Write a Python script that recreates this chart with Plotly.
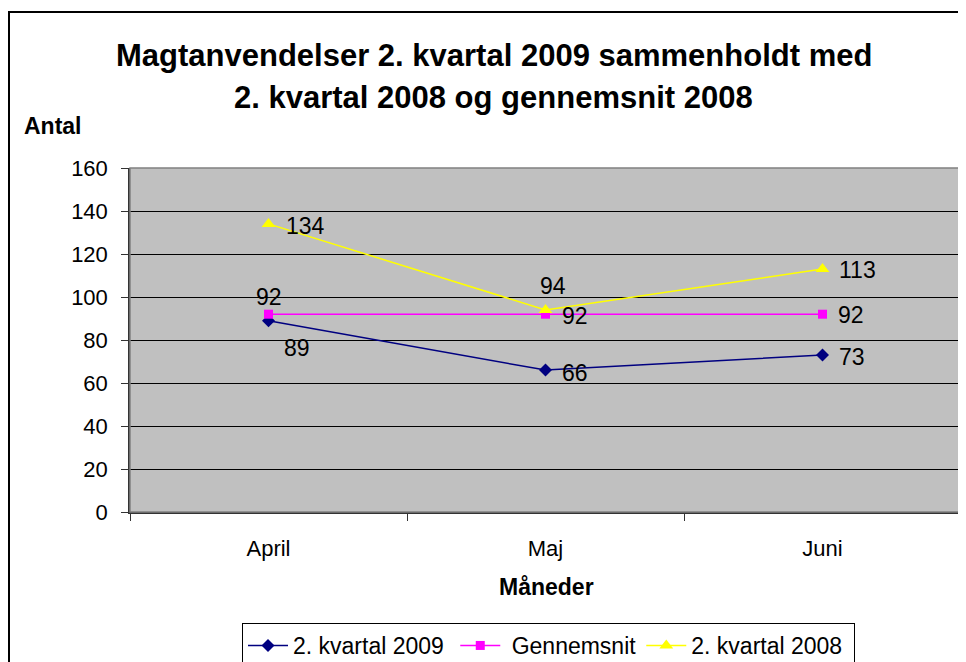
import plotly.graph_objects as go

months = ["April", "Maj", "Juni"]
kv2009 = [89, 66, 73]
gennemsnit = [92, 92, 92]
kv2008 = [134, 94, 113]
y_ticks = [0, 20, 40, 60, 80, 100, 120, 140, 160]
names = ["2. kvartal 2009\u00a0", "\u00a0Gennemsnit", "2. kvartal 2008\u00a0"]

# label placement (anchor, x offset px, y offset px) for each point
place2009 = [("left", 13, -27), ("left", 14, -3), ("left", 14, -2)]
placeGen = [("center", 0, 17), ("left", 14, -2), ("left", 13, -1)]
place2008 = [("left", 15, -2), ("center", 7, 24), ("left", 14, -1)]

FONT = "Liberation Sans, Arial, sans-serif"

# page has an 8px body margin; work in reference pixel coords and shift
OFF = 8
W, H = 966 - OFF, 662 - OFF
L, T = 130 - OFF, 168 - OFF
pw, ph = 831, 344
R = W - L - pw
B = H - T - ph


def px(x):
    return (x - OFF - L) / pw


def py(y):
    return (T + ph - (y - OFF)) / ph


fig = go.Figure()
series = [
    (names[0], kv2009, "#000080", "diamond", 10, place2009),
    (names[1], gennemsnit, "#FF00FF", "square", 9, placeGen),
    (names[2], kv2008, "#FFFF00", "triangle-up", 12, place2008),
]
annotations = []
for name, vals, col, sym, msize, place in series:
    fig.add_trace(go.Scatter(
        x=months, y=vals, name=name, mode="lines+markers",
        line=dict(color=col, width=1.5),
        marker=dict(symbol=sym, size=msize, color=col)))
    for m, v, (anc, dx, dy) in zip(months, vals, place):
        annotations.append(dict(
            x=m, y=v, xref="x", yref="y", text=str(v), showarrow=False,
            xanchor=anc, yanchor="middle", xshift=dx, yshift=dy,
            font=dict(family=FONT, size=23, color="black")))

annotations += [
    dict(text="<b>Magtanvendelser 2. kvartal 2009 sammenholdt med</b>",
         xref="paper", yref="paper", x=px(494), y=py(55), xanchor="center",
         yanchor="middle", showarrow=False, font=dict(family=FONT, size=31)),
    dict(text="<b>2. kvartal 2008 og gennemsnit 2008</b>",
         xref="paper", yref="paper", x=px(493), y=py(97), xanchor="center",
         yanchor="middle", showarrow=False, font=dict(family=FONT, size=31)),
    dict(text="<b>Antal</b>", xref="paper", yref="paper", x=px(22), y=py(126),
         xanchor="left", yanchor="middle", showarrow=False,
         font=dict(family=FONT, size=23)),
    dict(text="<b>Måneder</b>", xref="paper", yref="paper", x=px(546), y=py(587),
         xanchor="center", yanchor="middle", showarrow=False,
         font=dict(family=FONT, size=23)),
]

fig.update_layout(
    width=W, height=H,
    margin=dict(l=L, r=R, t=T, b=B, pad=0, autoexpand=False),
    paper_bgcolor="white", plot_bgcolor="#C0C0C0",
    font=dict(family=FONT, size=22, color="black"),
    showlegend=True,
    legend=dict(orientation="h", x=px(242), xanchor="left", y=py(623), yanchor="top",
                bordercolor="black", borderwidth=1, bgcolor="white",
                font=dict(family=FONT, size=23, color="black"),
                itemwidth=40, tracegroupgap=0),
    xaxis=dict(type="category", range=[-0.5, 2.5], showgrid=False,
               ticks="outside", tickson="boundaries", ticklen=7, tickcolor="#333333",
               ticklabelstandoff=16,
               showline=True, linecolor="#333333", linewidth=1.5,
               tickfont=dict(family=FONT, size=22, color="black"), fixedrange=True),
    yaxis=dict(range=[0, 160], tickvals=y_ticks, showgrid=True, gridcolor="#000000",
               gridwidth=1, zeroline=False, ticks="outside", ticklen=7, tickcolor="#333333",
               ticklabelstandoff=9,
               showline=True, linecolor="#333333", linewidth=1.5,
               tickfont=dict(family=FONT, size=22, color="black"), fixedrange=True),
    shapes=[
        dict(type="rect", xref="paper", yref="paper", x0=0, x1=1, y0=0, y1=1,
             line=dict(color="#808080", width=1.5), layer="above"),
        dict(type="rect", xref="paper", yref="paper", x0=px(9), x1=px(1000),
             y0=py(720), y1=py(12), line=dict(color="#000000", width=2)),
    ],
    annotations=annotations,
)

fig.write_html("out.html")
